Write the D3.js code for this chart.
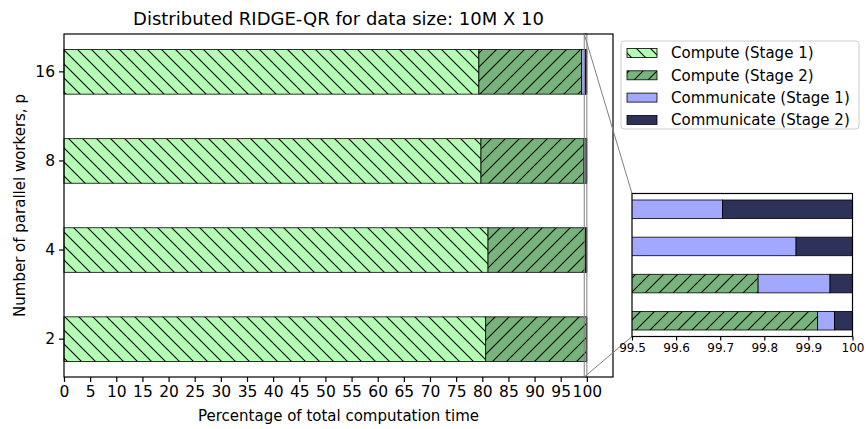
<!DOCTYPE html>
<html>
<head>
<meta charset="utf-8">
<script src="https://cdn.jsdelivr.net/npm/d3@7"></script>
<style>
  html, body { margin: 0; padding: 0; background: #fff; }
  svg { display: block; font-family: "DejaVu Sans", sans-serif; }
</style>
</head>
<body>
<svg id="chart" width="867" height="429"></svg>
<script>
// ---------------- data ----------------
const categories = ["2", "4", "8", "16"];
const seriesNames = ["Compute (Stage 1)", "Compute (Stage 2)", "Communicate (Stage 1)", "Communicate (Stage 2)"];
const computeStage1 = [80.65, 81.10, 79.75, 79.35];
const computeStage2 = [19.271, 18.686, 19.70, 19.65];
const commStage1 = [0.038, 0.163, 0.422, 0.705];
const commStage2 = [0.041, 0.051, 0.128, 0.295];
const xTickValues = [0, 5, 10, 15, 20, 25, 30, 35, 40, 45, 50, 55, 60, 65, 70, 75, 80, 85, 90, 95, 100];
const insetTickValues = [99.5, 99.6, 99.7, 99.8, 99.9, 100];
const insetTickLabels = ["99.5", "99.6", "99.7", "99.8", "99.9", "100"];
const titleText = "Distributed RIDGE-QR for data size: 10M X 10";
const xLabelText = "Percentage of total computation time";
const yLabelText = "Number of parallel workers, p";

// ---------------- styles ----------------
const fills = ["#b3ffb3", "#77b47b", "#a3a8ff", "#2e3259"];
const hatches = ["back", "fwd", null, null];

const svg = d3.select("#chart");

// table for stacking
const keys = ["c1", "c2", "m1", "m2"];
const table = categories.map((c, i) => ({
  cat: c, c1: computeStage1[i], c2: computeStage2[i], m1: commStage1[i], m2: commStage2[i]
}));
const stacked = d3.stack().keys(keys)(table);

// patterns
const defs = svg.append("defs");
const S = 14;
function addPattern(id, color, dir) {
  const p = defs.append("pattern").attr("id", id)
    .attr("patternUnits", "userSpaceOnUse").attr("width", S).attr("height", S);
  p.append("rect").attr("width", S).attr("height", S).attr("fill", color);
  const d = dir === "back"
    ? `M-2,${S - 2} L2,${S + 2} M0,0 L${S},${S} M${S - 2},-2 L${S + 2},2`
    : `M-2,2 L2,-2 M0,${S} L${S},0 M${S - 2},${S + 2} L${S + 2},${S - 2}`;
  p.append("path").attr("d", d).attr("stroke", "#000").attr("stroke-width", 1.1).attr("fill", "none");
}
addPattern("hatch0", fills[0], "back");
addPattern("hatch1", fills[1], "fwd");
function fillFor(k) { return hatches[k] ? `url(#hatch${k})` : fills[k]; }

// ---------------- main axes ----------------
const M = { left: 64, right: 613, top: 34, bottom: 377 };
const x = d3.scaleLinear().domain([0, 105]).range([M.left, M.right]);
const y = d3.scaleBand().domain(categories.slice().reverse())
  .range([M.top, M.bottom]).paddingInner(0.5).paddingOuter(0.175);

const gMain = svg.append("g");
stacked.forEach((layer, k) => {
  gMain.selectAll(null).data(layer).enter().append("rect")
    .attr("x", d => x(d[0]))
    .attr("width", d => Math.max(0, x(d[1]) - x(d[0])))
    .attr("y", d => y(d.data.cat))
    .attr("height", y.bandwidth())
    .attr("fill", fillFor(k))
    .attr("stroke", "#000").attr("stroke-width", 0.8);
});

// zoom indicator rect
svg.append("rect")
  .attr("x", x(99.5)).attr("y", M.top)
  .attr("width", x(100) - x(99.5)).attr("height", M.bottom - M.top)
  .attr("fill", "none").attr("stroke", "#808080").attr("stroke-width", 1);

// axes
const xAxis = d3.axisBottom(x).tickValues(xTickValues).tickSize(5).tickPadding(4).tickFormat(d3.format("d"));
const gx = svg.append("g").attr("transform", `translate(0,${M.bottom})`).call(xAxis);
gx.select(".domain").remove();
gx.selectAll(".tick line").attr("stroke", "#000").attr("stroke-width", 1.2);
gx.selectAll(".tick text").attr("font-size", 15.5).attr("fill", "#000").attr("font-family", "DejaVu Sans");

const yAxis = d3.axisLeft(y).tickSize(5).tickPadding(4);
const gy = svg.append("g").attr("transform", `translate(${M.left},0)`).call(yAxis);
gy.select(".domain").remove();
gy.selectAll(".tick line").attr("stroke", "#000").attr("stroke-width", 1.2);
gy.selectAll(".tick text").attr("font-size", 15.5).attr("fill", "#000").attr("font-family", "DejaVu Sans");

// frame
svg.append("rect").attr("x", M.left).attr("y", M.top)
  .attr("width", M.right - M.left).attr("height", M.bottom - M.top)
  .attr("fill", "none").attr("stroke", "#000").attr("stroke-width", 1.2);

// labels
svg.append("text").attr("x", (M.left + M.right) / 2).attr("y", 25)
  .attr("text-anchor", "middle").attr("font-size", 18).text(titleText);
svg.append("text").attr("x", (M.left + M.right) / 2).attr("y", 421)
  .attr("text-anchor", "middle").attr("font-size", 15).text(xLabelText);
svg.append("text").attr("transform", `translate(25,${(M.top + M.bottom) / 2}) rotate(-90)`)
  .attr("text-anchor", "middle").attr("font-size", 15).text(yLabelText);

// ---------------- inset ----------------
const I = { left: 632, right: 852.5, top: 193.5, bottom: 336.5 };
const xi = d3.scaleLinear().domain([99.5, 100]).range([I.left, I.right]);
const yi = d3.scaleBand().domain(categories.slice().reverse())
  .range([I.top, I.bottom]).paddingInner(0.5).paddingOuter(0.175);

// connector lines
svg.append("line").attr("x1", x(99.5)).attr("y1", M.top).attr("x2", I.left).attr("y2", I.top)
  .attr("stroke", "#808080").attr("stroke-width", 1);
svg.append("line").attr("x1", x(99.5)).attr("y1", M.bottom).attr("x2", I.left).attr("y2", I.bottom)
  .attr("stroke", "#808080").attr("stroke-width", 1);

defs.append("clipPath").attr("id", "insetClip").append("rect")
  .attr("x", I.left).attr("y", I.top).attr("width", I.right - I.left).attr("height", I.bottom - I.top);

svg.append("rect").attr("x", I.left).attr("y", I.top)
  .attr("width", I.right - I.left).attr("height", I.bottom - I.top).attr("fill", "#fff");
const gIn = svg.append("g").attr("clip-path", "url(#insetClip)");
stacked.forEach((layer, k) => {
  gIn.selectAll(null).data(layer).enter().append("rect")
    .attr("x", d => xi(Math.max(d[0], 99.4)))
    .attr("width", d => Math.max(0, xi(Math.min(d[1], 100.1)) - xi(Math.max(d[0], 99.4))))
    .attr("y", d => yi(d.data.cat))
    .attr("height", yi.bandwidth())
    .attr("fill", fillFor(k))
    .attr("stroke", "#000").attr("stroke-width", 0.8);
});
const xiAxis = d3.axisBottom(xi).tickValues(insetTickValues).tickSize(4).tickPadding(3)
  .tickFormat((d, i) => insetTickLabels[i]);
const gxi = svg.append("g").attr("transform", `translate(0,${I.bottom})`).call(xiAxis);
gxi.select(".domain").remove();
gxi.selectAll(".tick line").attr("stroke", "#000").attr("stroke-width", 1.2);
gxi.selectAll(".tick text").attr("font-size", 12).attr("fill", "#000").attr("font-family", "DejaVu Sans");
svg.append("rect").attr("x", I.left).attr("y", I.top)
  .attr("width", I.right - I.left).attr("height", I.bottom - I.top)
  .attr("fill", "none").attr("stroke", "#000").attr("stroke-width", 1.2);

// ---------------- legend ----------------
const L = { x: 621, y: 41, w: 238, h: 88 };
const gL = svg.append("g");
gL.append("rect").attr("x", L.x).attr("y", L.y).attr("width", L.w).attr("height", L.h)
  .attr("rx", 3).attr("fill", "#fff").attr("fill-opacity", 0.8)
  .attr("stroke", "#cccccc").attr("stroke-width", 1);
seriesNames.forEach((name, k) => {
  const cy = 53 + k * 22.3;
  gL.append("rect").attr("x", 627).attr("y", cy - 4.5).attr("width", 30).attr("height", 9)
    .attr("fill", fillFor(k)).attr("stroke", "#000").attr("stroke-width", 0.8);
  gL.append("text").attr("x", 671).attr("y", cy).attr("dy", "0.35em")
    .attr("font-size", 15).text(name);
});
</script>
</body>
</html>
